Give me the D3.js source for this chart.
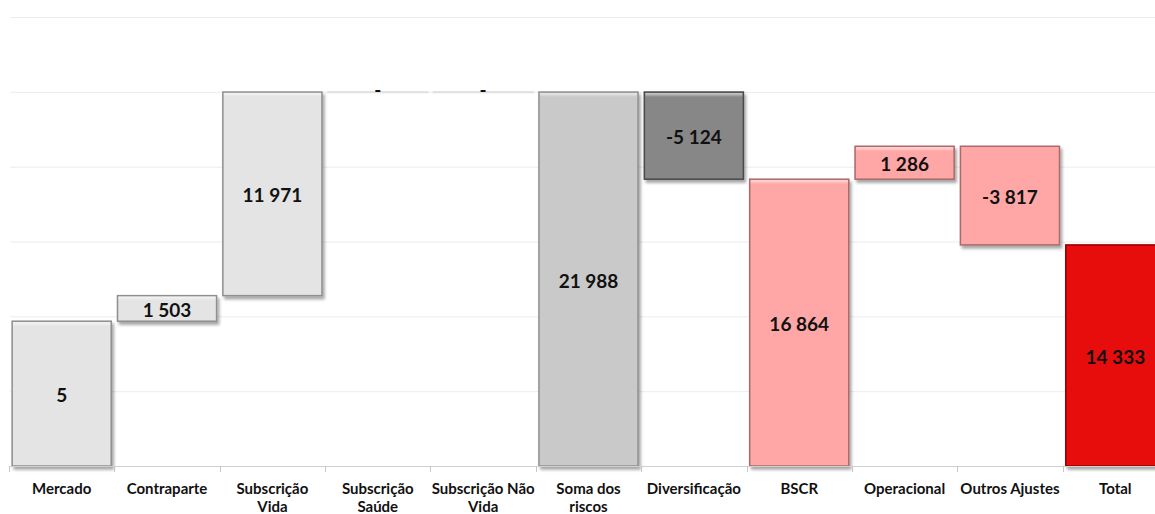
<!DOCTYPE html>
<html>
<head>
<meta charset="utf-8">
<script src="https://d3js.org/d3.v7.min.js"></script>
<style>
  html, body { margin: 0; padding: 0; background: #fff; overflow: hidden; }
  text { font-family: Lato, "Liberation Sans", sans-serif; }
</style>
</head>
<body>
<div id="graph"></div>
<script>
// categories (line breaks as in the original axis labels)
var categories = ["Mercado", "Contraparte", "Subscrição\nVida", "Subscrição\nSaúde", "Subscrição Não\nVida",
                  "Soma dos\nriscos", "Diversificação", "BSCR", "Operacional", "Outros Ajustes", "Total"];
// floating bar bottoms and tops
var barLow  = [0, 8514, 10017, 21988, 21988, 0, 16864, 0, 16864, 13000, 0];
var barHigh = [8514, 10017, 21988, 21988, 21988, 21988, 21988, 16864, 18800, 18800, 13000];
// the printed value labels
var valueLabels = ["5", "1 503", "11 971", "-", "-", "21 988", "-5 124", "16 864", "1 286", "-3 817", "14 333"];
// bar groups -> colour kind
var barKind = ["risk", "risk", "risk", "zero", "zero", "sum", "div", "bscr", "bscr", "bscr", "total"];
// gridline values
var yTicks = [0, 4400, 8800, 13200, 17600, 22000, 26400];

const fullwidth = 1155;
const fullheight = 514;

var fills   = { risk: "#e4e4e4", zero: "#f2f2f2", sum: "#c9c9c9", div: "#878787", bscr: "#ffa6a6", total: "#e80707" };
var strokes = { risk: "#8f8f8f", zero: "#e2e2e2", sum: "#8f8f8f", div: "#4a4a4a", bscr: "#a86a6a", total: "#9a0000" };

var xScale = d3.scaleBand()
  .domain(d3.range(categories.length))
  .range([9, 1168])
  .paddingInner(0.05)
  .paddingOuter(0.025);

var yScale = d3.scaleLinear()
  .domain([0, 26400])
  .range([466, 17]);

var svg = d3.select("#graph").append("svg")
  .attr("width", fullwidth)
  .attr("height", fullheight);

var defs = svg.append("defs");
var f = defs.append("filter").attr("id", "shadow")
  .attr("x", "-10%").attr("y", "-10%").attr("width", "130%").attr("height", "140%");
f.append("feDropShadow")
  .attr("dx", 2).attr("dy", 3).attr("stdDeviation", 1.6)
  .attr("flood-color", "#000").attr("flood-opacity", 0.35);

var hl = defs.append("linearGradient").attr("id", "bevel")
  .attr("x1", 0).attr("y1", 0).attr("x2", 0).attr("y2", 1);
hl.append("stop").attr("offset", "0%").attr("stop-color", "#fff").attr("stop-opacity", 0.6);
hl.append("stop").attr("offset", "100%").attr("stop-color", "#fff").attr("stop-opacity", 0);

// gridlines
svg.append("g")
  .selectAll("line")
  .data(yTicks.slice(1))
  .enter().append("line")
    .attr("x1", 10).attr("x2", fullwidth)
    .attr("y1", d => yScale(d) + 0.5).attr("y2", d => yScale(d) + 0.5)
    .attr("stroke", "#ececec")
    .attr("stroke-width", 1);

// bars
var bars = svg.append("g")
  .selectAll("g")
  .data(categories)
  .enter().append("g");

bars.append("rect")
  .attr("x", (d, i) => xScale(i) + 0.5)
  .attr("y", (d, i) => yScale(barHigh[i]))
  .attr("width", xScale.bandwidth() - 1)
  .attr("height", (d, i) => Math.max(0.5, yScale(barLow[i]) - yScale(barHigh[i])))
  .attr("fill", (d, i) => fills[barKind[i]])
  .attr("stroke", (d, i) => strokes[barKind[i]])
  .attr("stroke-width", (d, i) => barKind[i] == "zero" ? 2 : 1.5)
  .attr("filter", (d, i) => barKind[i] == "zero" ? null : "url(#shadow)");

// bevel highlight at the top edge
bars.filter((d, i) => barKind[i] != "zero")
  .append("rect")
  .attr("x", (d, i) => xScale(i) + 1.5)
  .attr("y", (d, i) => yScale(barHigh[i]) + 1)
  .attr("width", xScale.bandwidth() - 3)
  .attr("height", 4)
  .attr("fill", "url(#bevel)");

// value labels
bars.append("text")
  .attr("x", (d, i) => xScale(i) + xScale.bandwidth() / 2)
  .attr("y", (d, i) => barKind[i] == "zero" ? yScale(barHigh[i]) - 3
                                            : (yScale(barLow[i]) + yScale(barHigh[i])) / 2 + 1)
  .attr("text-anchor", "middle")
  .attr("dominant-baseline", "central")
  .attr("font-size", 19)
  .attr("font-weight", "bold")
  .attr("fill", "#111")
  .text((d, i) => valueLabels[i]);

// x axis line and ticks
var axis = svg.append("g");
axis.append("line")
  .attr("x1", 10).attr("x2", fullwidth)
  .attr("y1", 466.5).attr("y2", 466.5)
  .attr("stroke", "#d0d0d0");
axis.selectAll("line.tick")
  .data(d3.range(categories.length + 1))
  .enter().append("line")
    .attr("class", "tick")
    .attr("x1", i => Math.round(9 + i * xScale.step()) + 0.5)
    .attr("x2", i => Math.round(9 + i * xScale.step()) + 0.5)
    .attr("y1", 466).attr("y2", 472)
    .attr("stroke", "#c8c8c8");

// category labels
var catText = axis.selectAll("text")
  .data(categories)
  .enter().append("text")
    .attr("x", (d, i) => xScale(i) + xScale.bandwidth() / 2)
    .attr("y", 494)
    .attr("text-anchor", "middle")
    .attr("font-size", 15)
    .attr("font-weight", "bold")
    .attr("fill", "#111");

catText.each(function(d) {
  var lines = d.split("\n");
  var t = d3.select(this);
  lines.forEach(function(l, k) {
    t.append("tspan")
      .attr("x", t.attr("x"))
      .attr("dy", k == 0 ? 0 : 18)
      .text(l);
  });
});
</script>
</body>
</html>
